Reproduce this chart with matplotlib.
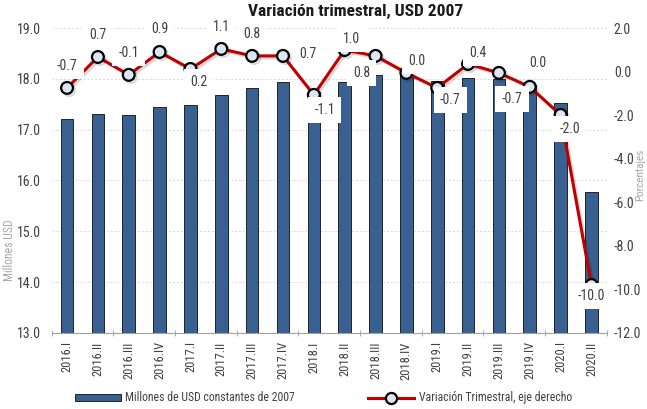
import numpy as np
import matplotlib
matplotlib.use("Agg")
import matplotlib.pyplot as plt
import matplotlib.patheffects as pe
from matplotlib.lines import Line2D
from matplotlib.patches import Patch

plt.rcParams['font.family'] = ['Roboto Condensed', 'DejaVu Sans']

quarters = ["2016.I", "2016.II", "2016.III", "2016.IV",
            "2017.I", "2017.II", "2017.III", "2017.IV",
            "2018.I", "2018.II", "2018.III", "2018.IV",
            "2019.I", "2019.II", "2019.III", "2019.IV",
            "2020.I", "2020.II"]
millones = [17.20, 17.31, 17.29, 17.45, 17.48, 17.68, 17.81, 17.94,
            17.74, 17.93, 18.07, 18.07, 17.95, 18.01, 18.00, 17.87,
            17.52, 15.77]
variacion = [-0.75, 0.67, -0.15, 0.90, 0.12, 1.04, 0.72, 0.72,
             -1.07, 0.99, 0.72, -0.06, -0.75, 0.35, -0.06, -0.70,
             -1.99, -9.8]
etiquetas = ["-0.7", "0.7", "-0.1", "0.9", "0.2", "1.1", "0.8", "0.7",
             "-1.1", "1.0", "0.8", "0.0", "-0.7", "0.4", "-0.7", "0.0",
             "-2.0", "-10.0"]
# label offsets from each marker, in pixels
label_dx = [0, 0, 0, 0, 8, 0, 0, 25, 11, 7, -14, 10, 13, 10, 13, 8, 9, 0]
label_dy = [22, 22, 22, 23, -13, 22, 22, 2, -15, 11, -17, 12, -12, 11, -26, 24, -14, -11]

bar_color = "#386191"
line_color = "#C00000"
txt = "#404040"

fig = plt.figure(figsize=(6.47, 4.09), dpi=100)
ax = fig.add_axes([0.0798, 0.186, 0.8582, 0.7455])
ax2 = ax.twinx()

x = np.arange(len(quarters))
ax.bar(x, millones, width=0.41, color=bar_color, edgecolor="#222222",
       linewidth=0.7, zorder=2)
ax.set_ylim(13, 19)
ax.set_yticks(np.arange(13, 19.01, 1))
ax.set_yticklabels([f"{v:.1f}" for v in np.arange(13, 19.01, 1)])
ax.set_xlim(-0.5, len(quarters) - 0.5)
ax.set_xticks(x)
ax.set_xticklabels(quarters, rotation=90)
ax.set_xticks(np.arange(-0.5, len(quarters), 2), minor=True)
ax.tick_params(axis='x', which='major', length=0, labelsize=9,
               labelcolor=txt, pad=6)
ax.tick_params(axis='x', which='minor', length=5, color="#A0A0A0",
               direction='inout')
ax.tick_params(axis='y', length=0, labelsize=10, labelcolor=txt, pad=8)
ax.yaxis.grid(True, color="#D9D9D9", linestyle=(0, (2, 2)), linewidth=0.7)
ax.set_axisbelow(True)
for s in ["top", "left", "right"]:
    ax.spines[s].set_visible(False)
ax.spines["bottom"].set_color("#A0A0A0")
ax.set_ylabel("Millones USD", color="#A6A6A6", fontsize=8.5)
ax.yaxis.set_label_coords(-0.065, 0.27)

ax2.plot(x, variacion, color=line_color, linewidth=2.2, marker='o',
         markersize=8.5, markerfacecolor="#DCE6F2", markeredgecolor="black",
         markeredgewidth=1.6, zorder=3,
         path_effects=[pe.SimpleLineShadow(offset=(1.5, -1.5), alpha=0.15),
                       pe.Normal()])
ax2.set_ylim(-12, 2)
ax2.set_yticks(np.arange(-12, 2.01, 2))
ax2.set_yticklabels([f"{v:.1f}" for v in np.arange(-12, 2.01, 2)])
ax2.tick_params(axis='y', length=0, labelsize=10, labelcolor=txt, pad=5)
for s in ["top", "left", "right", "bottom"]:
    ax2.spines[s].set_visible(False)
ax2.set_ylabel("Porcentajes", color="#A6A6A6", fontsize=8)
ax2.yaxis.set_label_coords(1.05, 0.52)

for i in range(len(quarters)):
    ax2.annotate(etiquetas[i], (x[i], variacion[i]),
                 xytext=(label_dx[i], label_dy[i]), textcoords='offset pixels',
                 ha='center', va='center', fontsize=10, color=txt, zorder=5,
                 bbox=dict(boxstyle='square,pad=0.45', fc='white', ec='none'))

fig.suptitle("Variación trimestral, USD 2007", x=0.549, y=0.99,
             fontsize=12.5, fontweight='bold', color="#1a1a1a")

handles = [Patch(facecolor=bar_color, edgecolor="#222222", linewidth=0.7),
           Line2D([], [], color=line_color, linewidth=2.2, marker='o',
                  markersize=8, markerfacecolor="#DCE6F2",
                  markeredgecolor="black", markeredgewidth=1.6)]
fig.legend(handles, ["Millones de USD constantes de 2007",
                     "Variación Trimestral, eje derecho"],
           loc='center', bbox_to_anchor=(0.5, 0.027), ncol=2, frameon=False,
           fontsize=8.5, handlelength=3.9, handleheight=0.55,
           columnspacing=6.2, handletextpad=0.4, labelcolor=txt)

fig.savefig("out.png", dpi=100)
